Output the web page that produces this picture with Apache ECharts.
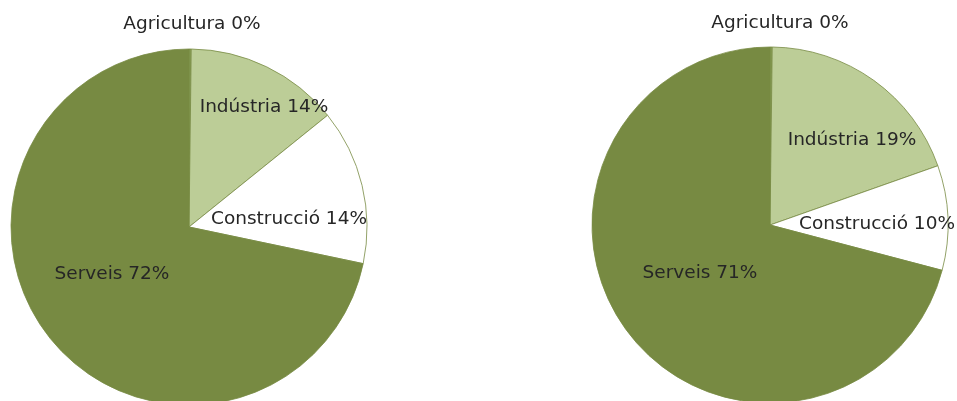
<!DOCTYPE html>
<html>
<head>
<meta charset="utf-8">
<script src="https://cdn.jsdelivr.net/npm/echarts@6/dist/echarts.min.js"></script>
<style>
html,body{margin:0;padding:0;background:#fff;}
#c{width:957px;height:401px;}
</style>
</head>
<body>
<div id="c"></div>
<script>
const categories = ['Agricultura', 'Indústria', 'Construcció', 'Serveis'];
const valuesLeft = [0.2, 14.0, 14.1, 71.7];
const valuesRight = [0.2, 19.4, 9.5, 70.9];

const colors = ['#8DA25A', '#BCCD97', '#FFFFFF', '#778A42'];
// label anchor positions (layout only)
const labelPosLeft = [[192, 24], [264, 107], [289, 219], [112, 274]];
const labelPosRight = [[780, 23], [852, 140], [877, 224], [700, 273]];

function makeSeries(values, center, labelPos) {
  return {
    type: 'pie',
    center: center,
    radius: 178,
    startAngle: 90,
    clockwise: true,
    percentPrecision: 0,
    avoidLabelOverlap: false,
    animation: false,
    silent: true,
    data: categories.map((c, i) => ({
      name: c,
      value: values[i],
      itemStyle: { color: colors[i] }
    })),
    itemStyle: { borderColor: '#778A42', borderWidth: 0.8 },
    label: {
      show: true,
      position: 'inside',
      formatter: '{b} {d}%',
      color: '#262626',
      fontFamily: 'DejaVu Sans, Verdana, sans-serif',
      fontSize: 18.5
    },
    labelLine: { show: false },
    labelLayout: function (p) {
      const pos = labelPos[p.dataIndex];
      return { x: pos[0], y: pos[1], align: 'center', verticalAlign: 'middle' };
    }
  };
}

const chart = echarts.init(document.getElementById('c'), null, { renderer: 'canvas' });
chart.setOption({
  backgroundColor: '#fff',
  series: [
    makeSeries(valuesLeft, [189, 227], labelPosLeft),
    makeSeries(valuesRight, [770, 225], labelPosRight)
  ]
});
</script>
</body>
</html>
